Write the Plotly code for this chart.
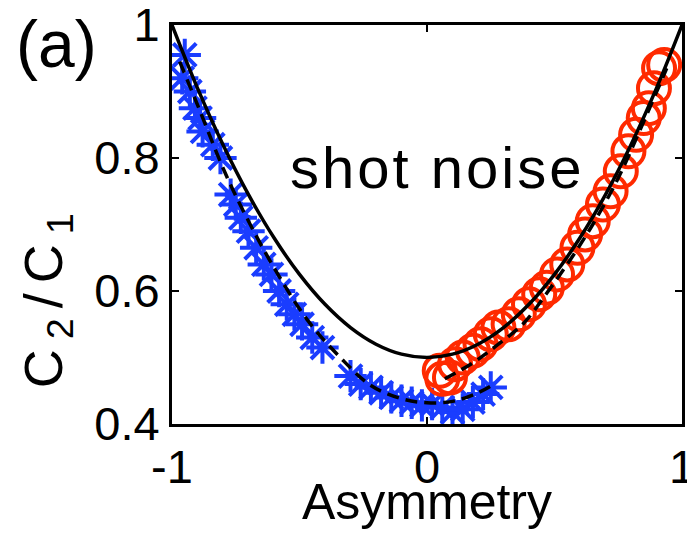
import plotly.graph_objects as go

# blue data (asterisks)
blue_x = [-0.95, -0.96, -0.93, -0.91, -0.89, -0.88, -0.84, -0.81, -0.77, -0.75, -0.73, -0.70,
          -0.67, -0.64, -0.61, -0.58, -0.55, -0.52, -0.49, -0.45, -0.41, -0.30, -0.26, -0.22,
          -0.18, -0.14, -0.10, -0.06, -0.02, 0.02, 0.06, 0.10, 0.14, 0.18, 0.22, 0.25]
blue_y = [0.955, 0.92, 0.90, 0.875, 0.86, 0.84, 0.82, 0.80, 0.745, 0.73, 0.71, 0.69,
          0.665, 0.64, 0.625, 0.60, 0.58, 0.565, 0.55, 0.53, 0.515, 0.472, 0.46, 0.455,
          0.447, 0.44, 0.435, 0.432, 0.428, 0.43, 0.425, 0.418, 0.422, 0.433, 0.445, 0.455]

# red data (circles)
red_x = [0.05, 0.06, 0.09, 0.11, 0.14, 0.18, 0.21, 0.25, 0.28, 0.32, 0.36, 0.40, 0.44, 0.47,
         0.51, 0.55, 0.59, 0.62, 0.65, 0.69, 0.72, 0.76, 0.79, 0.82, 0.85, 0.87, 0.89, 0.91, 0.93]
red_y = [0.48, 0.468, 0.47, 0.49, 0.50, 0.51, 0.52, 0.535, 0.545, 0.55, 0.565, 0.58, 0.595, 0.605,
         0.625, 0.64, 0.665, 0.685, 0.705, 0.73, 0.75, 0.78, 0.81, 0.835, 0.86, 0.875, 0.905, 0.935, 0.94]

# shot-noise curve (solid)
theory_x = [-1.0, -0.9, -0.8, -0.7, -0.6, -0.5, -0.4, -0.3, -0.2, -0.1, 0.0,
            0.1, 0.2, 0.3, 0.4, 0.5, 0.6, 0.7, 0.8, 0.9, 1.0]
theory_y = [1.0, 0.905, 0.82, 0.745, 0.68, 0.625, 0.58, 0.545, 0.52, 0.505, 0.5,
            0.505, 0.52, 0.545, 0.58, 0.625, 0.68, 0.745, 0.82, 0.905, 1.0]

# fit curves (dashed)
fit_blue_x = [-0.97, -0.9, -0.8, -0.72, -0.6, -0.47, -0.34, -0.22, -0.1, 0.0, 0.1, 0.2, 0.25]
fit_blue_y = [0.945, 0.88, 0.785, 0.72, 0.635, 0.557, 0.50, 0.458, 0.438, 0.432, 0.434, 0.447, 0.457]
fit_red_x = [0.07, 0.18, 0.27, 0.38, 0.47, 0.56, 0.65, 0.75, 0.85, 0.94]
fit_red_y = [0.468, 0.492, 0.517, 0.552, 0.597, 0.646, 0.70, 0.77, 0.855, 0.935]

x_ticks = [-1, 0, 1]
x_ticktext = ["-1", "0", "1"]
y_ticks = [0.4, 0.6, 0.8, 1.0]
y_ticktext = ["0.4", "0.6", "0.8", "1"]

BLUE = "#1a3dff"
RED = "#ff2a00"
FONT = "Liberation Sans, Arial, sans-serif"

fig = go.Figure()
fig.add_trace(go.Scatter(x=blue_x, y=blue_y, mode="markers",
                         marker=dict(symbol="asterisk-open", size=27, color=BLUE,
                                     line=dict(color=BLUE, width=4))))
fig.add_trace(go.Scatter(x=red_x, y=red_y, mode="markers",
                         marker=dict(symbol="circle-open", size=32, color=RED,
                                     line=dict(color=RED, width=4))))
fig.add_trace(go.Scatter(x=theory_x, y=theory_y, mode="lines",
                         line=dict(color="black", width=3.5, shape="spline")))
fig.add_trace(go.Scatter(x=fit_blue_x, y=fit_blue_y, mode="lines",
                         line=dict(color="black", width=3.5, dash="12px,7px", shape="spline")))
fig.add_trace(go.Scatter(x=fit_red_x, y=fit_red_y, mode="lines",
                         line=dict(color="black", width=3.5, dash="12px,7px", shape="spline")))

axis_common = dict(showgrid=False, zeroline=False, showline=True, linecolor="black",
                   linewidth=3, mirror="ticks", ticks="inside", ticklen=7, tickwidth=2,
                   tickcolor="black", ticklabeloverflow="allow", automargin=False,
                   tickfont=dict(family=FONT, size=47, color="black"))

fig.update_xaxes(range=[-1, 1], tickvals=x_ticks, ticktext=x_ticktext, **axis_common)
fig.update_yaxes(range=[0.4, 1.0], tickvals=y_ticks, ticktext=y_ticktext, **axis_common)

fig.update_layout(
    width=687, height=536,
    margin=dict(l=172, r=5, t=25, b=112),
    paper_bgcolor="white", plot_bgcolor="white",
    showlegend=False,
    font=dict(family=FONT, color="black"),
    annotations=[
        dict(text="(a)", xref="paper", yref="paper", x=-0.31, y=1.05,
             xanchor="left", yanchor="top", showarrow=False,
             font=dict(family=FONT, size=66, color="black")),
        dict(text="<span style='letter-spacing:3px'>shot noise</span>", xref="x", yref="y",
             x=-0.545, y=0.785,
             xanchor="left", yanchor="middle", showarrow=False,
             font=dict(family=FONT, size=58, color="black")),
        dict(text="Asymmetry", xref="paper", yref="paper", x=0.5, y=-0.195,
             xanchor="center", yanchor="middle", showarrow=False,
             font=dict(family=FONT, size=50, color="black")),
        dict(text="<span style='letter-spacing:10px'>C<sub>2</sub>/C<sub>1</sub></span>",
             xref="paper", yref="paper", x=-0.245, y=0.32,
             xanchor="center", yanchor="middle", textangle=-90, showarrow=False,
             font=dict(family=FONT, size=54, color="black")),
    ],
)

fig.write_html("out.html")
